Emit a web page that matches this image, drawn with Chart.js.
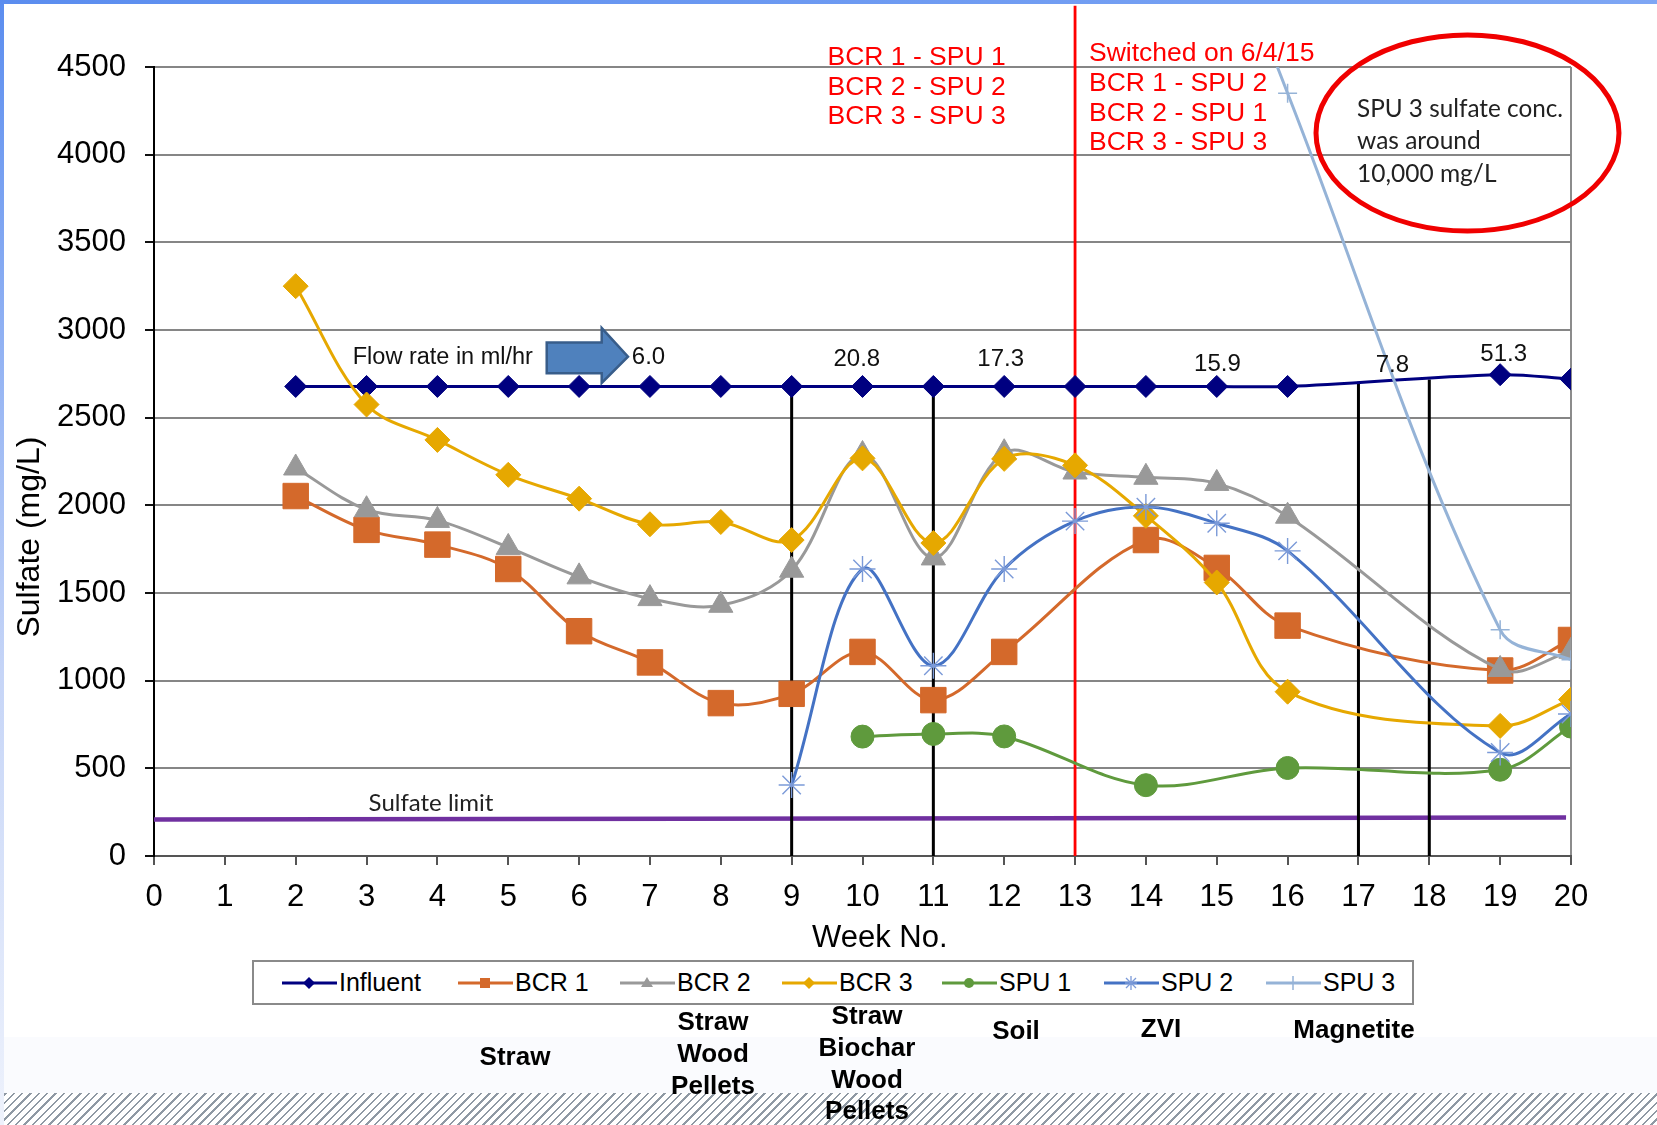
<!DOCTYPE html>
<html>
<head>
<meta charset="utf-8">
<title>Sulfate by week</title>
<script src="https://cdn.jsdelivr.net/npm/chart.js@4.4.1/dist/chart.umd.min.js"></script>
<style>
html, body { margin: 0; padding: 0; background: #fff; }
#page { position: relative; width: 1657px; height: 1125px; overflow: hidden; background: #fff; font-family: "Liberation Sans", Arial, sans-serif; }
#topbar { position: absolute; left: 0; top: 0; width: 1657px; height: 4px; background: linear-gradient(90deg, #5b8def, #7ea6f4); }
#leftbar { position: absolute; left: 0; top: 0; width: 4px; height: 1125px; background: linear-gradient(180deg, #5b8def, #c6d5f7 60%, #eef2fc); }
#band { position: absolute; left: 0; top: 1037px; width: 1657px; height: 56px; background: #fafbfe; }
#hatch { position: absolute; left: 0; top: 1093px; width: 1657px; height: 32px;
  background: repeating-linear-gradient(-45deg, #fff 0px, #fff 3.4px, #8f99a4 3.4px, #8f99a4 5.1px, #fff 5.1px, #fff 5.9px); }
#chart { position: absolute; left: 0; top: 0; }
#legend { position: absolute; left: 252px; top: 960px; width: 1162px; height: 45px; border: 2px solid #8a8a8a; box-sizing: border-box; background: #fff; }
.item { position: absolute; top: 0; height: 41px; display: flex; align-items: center; font-size: 25px; color: #000; }
.item svg { margin-right: 2px; }
.media { position: absolute; width: 220px; text-align: center; font-weight: bold; font-size: 26px; line-height: 31.7px; color: #000; }
</style>
</head>
<body>
<div id="page">
  <div id="band"></div>
  <div id="hatch"></div>
  <div id="topbar"></div>
  <div id="leftbar"></div>
  <canvas id="chart" width="1657" height="1125"></canvas>
  <div id="legend"></div>
</div>
<script>
// valeurs (semaines / sulfate mg/L)
const weeksInfluent = [2, 3, 4, 5, 6, 7, 8, 9, 10, 11, 12, 13, 14, 15, 16, 19, 20];
const influent = [2678, 2678, 2678, 2678, 2678, 2678, 2678, 2678, 2678, 2678, 2678, 2678, 2678, 2678, 2678, 2745, 2720];
const weeksBcr1 = [2, 3, 4, 5, 6, 7, 8, 9, 10, 11, 12, 14, 15, 16, 19, 20];
const bcr1 = [2053, 1860, 1776, 1637, 1282, 1104, 872, 925, 1164, 889, 1164, 1802, 1643, 1314, 1058, 1232];
const weeksBcr = [2, 3, 4, 5, 6, 7, 8, 9, 10, 11, 12, 13, 14, 15, 16, 19, 20];
const bcr2 = [2213, 1975, 1914, 1760, 1592, 1468, 1430, 1630, 2290, 1700, 2300, 2190, 2160, 2125, 1938, 1064, 1168];
const bcr3 = [3250, 2575, 2373, 2174, 2038, 1892, 1905, 1802, 2268, 1785, 2265, 2228, 1940, 1560, 937, 742, 892];
const weeksSpu1 = [10, 11, 12, 14, 16, 19, 20];
const spu1 = [681, 696, 682, 404, 502, 492, 738];
const weeksSpu2 = [9, 10, 11, 12, 13, 14, 15, 16, 19, 20];
const spu2 = [405, 1637, 1085, 1637, 1910, 1990, 1898, 1740, 590, 810];
// semaine 15 hors échelle (seule la pente est visible)
const weeksSpu3 = [15, 16, 19, 20];
const spu3 = [5400, 4350, 1290, 1120];

// lignes verticales (changements de media) et limite
const dividerWeeks = [9, 11, 17, 18];
const dividerTops = [2678, 2678, 2705, 2718];
const switchWeek = 13;
const switchTop = 4850;
const limitWeeks = [0, 19.93];
const limitValues = [208, 220];

// textes
const flowRates = ['6.0', '20.8', '17.3', '15.9', '7.8', '51.3'];
const flowWeeks = [6.98, 9.92, 11.95, 15.01, 17.48, 19.05];
const flowLevels = [2853, 2846, 2846, 2815, 2812, 2870];
const pairsBefore = ['BCR 1 - SPU 1', 'BCR 2 - SPU 2', 'BCR 3 - SPU 3'];
const pairsAfter = ['Switched on 6/4/15', 'BCR 1 - SPU 2', 'BCR 2 - SPU 1', 'BCR 3 - SPU 3'];
const noteLines = ['SPU 3 sulfate conc.', 'was around', '10,000 mg/L'];
const mediaLabels = [['Straw'], ['Straw', 'Wood', 'Pellets'], ['Straw', 'Biochar', 'Wood', 'Pellets'], ['Soil'], ['ZVI'], ['Magnetite']];

const FONT = '"Liberation Sans", Arial, sans-serif';

function serie(label, weeks, values, color, style, radius, order, extra) {
    return Object.assign({
        label: label,
        data: weeks.map((w, i) => ({ x: w, y: values[i] })),
        borderColor: color,
        backgroundColor: color,
        borderWidth: 3,
        tension: 0.35,
        pointStyle: style,
        pointRadius: radius,
        pointBackgroundColor: color,
        pointBorderColor: color,
        pointBorderWidth: 1,
        order: order
    }, extra || {});
}

function trait(weeks, values, color, width, order, extra) {
    return Object.assign({
        label: '',
        data: weeks.map((w, i) => ({ x: w, y: values[i] })),
        borderColor: color,
        borderWidth: width,
        pointRadius: 0,
        tension: 0,
        order: order
    }, extra || {});
}

const series = [
    serie('Influent', weeksInfluent, influent, '#000080', 'rectRot', 11, 7),
    serie('BCR 1', weeksBcr1, bcr1, '#d4692b', 'rect', 18, 6),
    serie('BCR 2', weeksBcr, bcr2, '#999999', 'triangle', 14, 5),
    serie('BCR 3', weeksBcr, bcr3, '#e6a800', 'rectRot', 12.5, 4),
    serie('SPU 1', weeksSpu1, spu1, '#5f9a3d', 'circle', 11.5, 3),
    serie('SPU 2', weeksSpu2, spu2, '#4472c4', 'star', 13, 2, { pointBorderColor: '#7b9ad8', pointBorderWidth: 1.4 }),
    serie('SPU 3', weeksSpu3, spu3, '#95b3d7', 'cross', 9.5, 1, { pointBorderWidth: 1.5 })
];

const extras = [trait(limitWeeks, limitValues, '#7030a0', 4.5, 12)];
dividerWeeks.forEach((w, i) => extras.push(trait([w, w], [0, dividerTops[i]], '#000', 3, 11)));
extras.push(trait([switchWeek, switchWeek], [0, switchTop], '#ff0000', 2.8, 10, { clip: false }));

// annotations dessinées au-dessus des courbes
const annotations = {
    id: 'annotations',
    afterDatasetsDraw(chart) {
        const { ctx, scales: { x, y } } = chart;
        const px = v => x.getPixelForValue(v);
        const py = v => y.getPixelForValue(v);
        // texte centré sur la hauteur des majuscules
        function texte(t, vx, cy, size, family, color, align, maxW) {
            ctx.font = size + 'px ' + family;
            ctx.fillStyle = color;
            ctx.textAlign = align;
            ctx.textBaseline = 'alphabetic';
            if (maxW) ctx.fillText(t, vx, cy + size * 0.36, maxW);
            else ctx.fillText(t, vx, cy + size * 0.36);
        }
        ctx.save();
        // débits
        texte('Flow rate in ml/hr', px(2.805), py(2853), 23.5, FONT, '#111', 'left');
        flowRates.forEach((t, i) => texte(t, px(flowWeeks[i]), py(flowLevels[i]), 24, FONT, '#111', 'center'));
        // flèche
        const arrow = [[5.543, 2928], [6.319, 2928], [6.319, 3011], [6.69, 2848], [6.319, 2698], [6.319, 2753], [5.543, 2753]];
        ctx.beginPath();
        arrow.forEach((p, i) => i ? ctx.lineTo(px(p[0]), py(p[1])) : ctx.moveTo(px(p[0]), py(p[1])));
        ctx.closePath();
        ctx.fillStyle = '#4f81bd';
        ctx.fill();
        ctx.lineWidth = 2.5;
        ctx.strokeStyle = '#385d8a';
        ctx.stroke();
        // limite
        texte('Sulfate limit', px(3.91), py(305), 24, 'Lato, sans-serif', '#222', 'center', 131);
        // permutations
        pairsBefore.forEach((t, i) => texte(t, px(9.506), py(4567) + i * 29.8, 26.5, FONT, '#ff0000', 'left'));
        pairsAfter.forEach((t, i) => texte(t, px(13.197), py(4587) + i * 29.7, 26.5, FONT, '#ff0000', 'left'));
        // ellipse + note
        const cx = px(18.539), cy = py(4124);
        ctx.beginPath();
        ctx.ellipse(cx, cy, px(18.539 + 2.138) - cx, py(4124 - 559) - cy, 0, 0, Math.PI * 2);
        ctx.lineWidth = 5;
        ctx.strokeStyle = '#f00000';
        ctx.stroke();
        noteLines.forEach((t, i) => texte(t, px(16.98), py(4266) + i * 32.5, 24.5, 'Lato, sans-serif', '#222', 'left', 206));
        ctx.restore();
    }
};

new Chart(document.getElementById('chart'), {
    type: 'line',
    data: { datasets: series.concat(extras) },
    options: {
        responsive: false,
        animation: false,
        devicePixelRatio: 1,
        layout: { padding: { left: 0, top: 67, right: 86, bottom: 159 } },
        plugins: { legend: { display: false }, tooltip: { enabled: false } },
        scales: {
            x: {
                type: 'linear', min: 0, max: 20,
                afterFit: s => { s.height = 110; },
                ticks: { stepSize: 1, color: '#000', padding: 14, font: { family: FONT, size: 31 } },
                grid: {
                    color: c => (c.tick && c.tick.value === 20) ? '#8c8c8c' : 'rgba(0,0,0,0)',
                    lineWidth: 2, tickLength: 9, tickColor: '#555', tickWidth: 2
                },
                border: { color: '#555', width: 2 },
                title: { display: true, text: '\u00a0\u00a0\u00a0\u00a0Week No.', color: '#000', padding: { top: 0, bottom: 9 }, font: { family: FONT, size: 31 } }
            },
            y: {
                min: 0, max: 4500,
                afterFit: s => { s.width = 154; },
                ticks: { stepSize: 500, color: '#000', padding: 19, font: { family: FONT, size: 31 }, callback: v => String(v) },
                grid: { color: '#868686', lineWidth: 2, tickLength: 9, tickColor: '#111', tickWidth: 2 },
                border: { color: '#000', width: 2 },
                title: { display: true, text: 'Sulfate (mg/L)' + '\u00a0'.repeat(17), color: '#000', padding: { top: 11, bottom: 0 }, font: { family: FONT, size: 32 } }
            }
        }
    },
    plugins: [annotations]
});

// légende (trait + marqueur comme dans Excel)
const legendX = [28, 204, 366, 528, 688, 850, 1012];
function marqueur(style, c) {
    switch (style) {
        case 'rectRot': return `<polygon points="27,4 33,10 27,16 21,10" fill="${c}"/>`;
        case 'rect': return `<rect x="22" y="5" width="10" height="10" fill="${c}"/>`;
        case 'triangle': return `<polygon points="27,4 33,14 21,14" fill="${c}"/>`;
        case 'circle': return `<circle cx="27" cy="10" r="5" fill="${c}"/>`;
        case 'star': return `<path d="M27 3V17M21 10H33M22 5L32 15M32 5L22 15" stroke="#7b9ad8" stroke-width="1.3"/>`;
        default: return `<path d="M27 3V17M20 10H34" stroke="${c}" stroke-width="1.5"/>`;
    }
}
const legend = document.getElementById('legend');
series.forEach((d, i) => {
    const it = document.createElement('div');
    it.className = 'item';
    it.style.left = legendX[i] + 'px';
    it.innerHTML = `<svg width="55" height="20"><line x1="0" y1="10" x2="55" y2="10" stroke="${d.borderColor}" stroke-width="3"/>${marqueur(d.pointStyle, d.borderColor)}</svg><span>${d.label}</span>`;
    legend.appendChild(it);
});

// media sous la légende
const mediaX = [515, 713, 867, 1016, 1161, 1354];
const mediaY = [1057, 1022, 1016, 1031, 1029, 1030];
const page = document.getElementById('page');
mediaLabels.forEach((lines, i) => {
    const m = document.createElement('div');
    m.className = 'media';
    m.style.left = (mediaX[i] - 110) + 'px';
    m.style.top = (mediaY[i] - 15.85) + 'px';
    m.innerHTML = lines.join('<br>');
    page.appendChild(m);
});
</script>
</body>
</html>
